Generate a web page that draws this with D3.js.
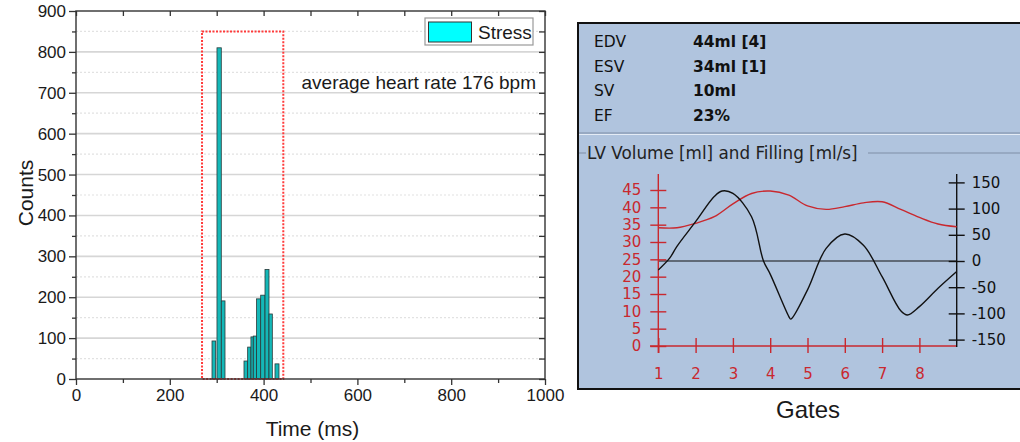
<!DOCTYPE html>
<html>
<head>
<meta charset="utf-8">
<script src="https://cdn.jsdelivr.net/npm/d3@7"></script>
<style>
body { margin: 0; background: #fff; }
svg { display: block; }
</style>
</head>
<body>
<svg width="1020" height="442"></svg>
<script>
// left: histogram of RR intervals
var binStart = [290, 300.6, 309.8, 358.2, 366, 373, 378, 385, 393.8, 403, 411.5, 424.3];
var binEnd   = [297.8, 309.8, 317.7, 366, 373, 378, 385, 393.8, 403, 411.5, 418.6, 432.8];
var counts   = [93, 810, 191, 44, 78, 103, 105, 196, 205, 268, 159, 37];
var xTicks = [0, 200, 400, 600, 800, 1000];
var xMinor = [100, 300, 500, 700, 900];
var yTicks = [0, 100, 200, 300, 400, 500, 600, 700, 800, 900];
var yMinor = [50, 150, 250, 350, 450, 550, 650, 750, 850];
var acceptWindow = [268.7, 442, 850]; // from, to, height
var seriesName = "Stress";
var note = "average heart rate 176 bpm";

// right: gated LV volume / filling
var statLabels = ["EDV", "ESV", "SV", "EF"];
var statValues = ["44ml [4]", "34ml [1]", "10ml", "23%"];
var volGate = [1, 1.5, 2, 2.5, 3, 3.5, 4, 4.5, 5, 5.5, 6, 6.5, 7, 7.5, 8, 8.5, 9];
var volume  = [34.1, 34.1, 35.4, 37.3, 41.0, 44.0, 44.7, 43.5, 40.4, 39.4, 40.2, 41.3, 41.6, 39.4, 37.1, 35.2, 34.4];
var fillGate = [1, 1.31, 1.5, 2, 2.5, 2.71, 3, 3.5, 3.82, 4, 4.5, 4.55, 5, 5.5, 6, 6.5, 7, 7.5, 7.68, 8, 8.5, 9];
var filling  = [-17, 6, 28, 75, 123, 133.6, 129, 84.5, 0, -25, -106, -111, -55, 24, 51.5, 30, -30, -95, -103, -87, -52, -20];
var volTicks = [0, 5, 10, 15, 20, 25, 30, 35, 40, 45];
var fillTicks = [150, 100, 50, 0, -50, -100, -150];
var gateTicks = [1, 2, 3, 4, 5, 6, 7, 8];

var svg = d3.select("svg");
var sans = "'Liberation Sans', Arial, sans-serif";
var tahoma = "'DejaVu Sans', Verdana, sans-serif";

// ---------- histogram ----------
var x = d3.scaleLinear().domain([0, 1000]).range([76, 545]);
var y = d3.scaleLinear().domain([0, 900]).range([379, 11]);

var left = svg.append("g");

left.selectAll(".minor-grid")
  .data(yMinor)
  .join("line")
  .attr("x1", x(0)).attr("x2", x(1000))
  .attr("y1", d => y(d)).attr("y2", d => y(d))
  .attr("stroke", "#e2e2e2").attr("stroke-width", 1.2)
  .attr("stroke-dasharray", "2,2");

left.selectAll(".major-grid")
  .data(yTicks.slice(1, -1))
  .join("line")
  .attr("x1", x(0)).attr("x2", x(1000))
  .attr("y1", d => y(d)).attr("y2", d => y(d))
  .attr("stroke", "#d6d6d6").attr("stroke-width", 1.6);

left.selectAll(".bar")
  .data(counts)
  .join("rect")
  .attr("x", (d, i) => x(binStart[i]))
  .attr("width", (d, i) => x(binEnd[i]) - x(binStart[i]))
  .attr("y", d => y(d))
  .attr("height", d => y(0) - y(d))
  .attr("fill", "#14b8b8")
  .attr("stroke", "#2a3a3a").attr("stroke-width", 0.8);

left.append("rect")
  .attr("x", x(acceptWindow[0]))
  .attr("y", y(acceptWindow[2]))
  .attr("width", x(acceptWindow[1]) - x(acceptWindow[0]))
  .attr("height", y(0) - y(acceptWindow[2]))
  .attr("fill", "none")
  .attr("stroke", "#ff3b3b").attr("stroke-width", 2)
  .attr("stroke-dasharray", "2,1.5");

// axes
function styleAxis(g) {
  g.select(".domain").remove();
  g.selectAll("line").attr("stroke", "#333").attr("stroke-width", 1.3);
  g.selectAll("text").attr("fill", "#1a1a1a").style("font-family", sans).style("font-size", "17px");
}

left.append("g")
  .attr("transform", "translate(0," + y(0) + ")")
  .call(d3.axisBottom(x).tickValues(xTicks).tickSize(6).tickPadding(4).tickFormat(d3.format("d")))
  .call(styleAxis);
left.append("g")
  .attr("transform", "translate(0," + y(0) + ")")
  .call(d3.axisBottom(x).tickValues(xMinor).tickSize(4).tickFormat(""))
  .call(styleAxis);
left.append("g")
  .attr("transform", "translate(0," + y(900) + ")")
  .call(d3.axisBottom(x).tickValues(xTicks.concat(xMinor)).tickSize(5).tickFormat(""))
  .call(styleAxis);

left.append("g")
  .attr("transform", "translate(" + x(0) + ",0)")
  .call(d3.axisLeft(y).tickValues(yTicks).tickSize(7).tickPadding(3))
  .call(styleAxis);
left.append("g")
  .attr("transform", "translate(" + x(0) + ",0)")
  .call(d3.axisLeft(y).tickValues(yMinor).tickSize(4).tickFormat(""))
  .call(styleAxis);
left.append("g")
  .attr("transform", "translate(" + x(1000) + ",0)")
  .call(d3.axisLeft(y).tickValues(yTicks.concat(yMinor)).tickSize(6).tickFormat(""))
  .call(styleAxis);

left.append("rect")
  .attr("x", x(0)).attr("y", y(900))
  .attr("width", x(1000) - x(0)).attr("height", y(0) - y(900))
  .attr("fill", "none").attr("stroke", "#333").attr("stroke-width", 1.4);

// legend
var leg = left.append("g");
leg.append("rect")
  .attr("x", 425).attr("y", 18).attr("width", 108).attr("height", 27)
  .attr("fill", "#fff").attr("stroke", "#999").attr("stroke-width", 1.2);
leg.append("rect")
  .attr("x", 428.5).attr("y", 22).attr("width", 43).attr("height", 20)
  .attr("fill", "#00ffff").attr("stroke", "#333").attr("stroke-width", 1);
leg.append("text")
  .attr("x", 478).attr("y", 38.5)
  .style("font-family", sans).style("font-size", "19px").attr("fill", "#1a1a1a")
  .text(seriesName);

left.append("text")
  .attr("x", 536).attr("y", 89)
  .attr("text-anchor", "end")
  .style("font-family", sans).style("font-size", "19px").attr("fill", "#1a1a1a")
  .text(note);

left.append("text")
  .attr("x", (x(0) + x(1000)) / 2 + 2).attr("y", 436)
  .attr("text-anchor", "middle")
  .style("font-family", sans).style("font-size", "21px").attr("fill", "#1a1a1a")
  .text("Time (ms)");

left.append("text")
  .attr("transform", "translate(33," + (y(450) - 2) + ") rotate(-90)")
  .attr("text-anchor", "middle")
  .style("font-family", sans).style("font-size", "21px").attr("fill", "#1a1a1a")
  .text("Counts");

// ---------- gated panel ----------
var panel = svg.append("g");
panel.append("rect")
  .attr("x", 578).attr("y", 23).attr("width", 460).attr("height", 366)
  .attr("fill", "#b0c4de").attr("stroke", "#111").attr("stroke-width", 2);

panel.selectAll(".stat-label")
  .data(statLabels)
  .join("text")
  .attr("x", 594).attr("y", (d, i) => 47 + i * 24.6)
  .style("font-family", tahoma).style("font-size", "15.5px").attr("fill", "#111")
  .text(d => d);
panel.selectAll(".stat-value")
  .data(statValues)
  .join("text")
  .attr("x", 693).attr("y", (d, i) => 47 + i * 24.6)
  .style("font-family", tahoma).style("font-size", "15.5px").style("font-weight", "bold").attr("fill", "#111")
  .text(d => d);

// separator groove and group box line
panel.append("line").attr("x1", 579).attr("x2", 1020).attr("y1", 133).attr("y2", 133)
  .attr("stroke", "#7f8ea6").attr("stroke-width", 1.2);
panel.append("line").attr("x1", 579).attr("x2", 1020).attr("y1", 134.5).attr("y2", 134.5)
  .attr("stroke", "#e4ecf6").attr("stroke-width", 1);
panel.append("line").attr("x1", 579).attr("x2", 586).attr("y1", 153).attr("y2", 153)
  .attr("stroke", "#7f8ea6").attr("stroke-width", 1);
panel.append("line").attr("x1", 868).attr("x2", 1020).attr("y1", 153).attr("y2", 153)
  .attr("stroke", "#7f8ea6").attr("stroke-width", 1);
panel.append("text")
  .attr("x", 587).attr("y", 158.5)
  .style("font-family", tahoma).style("font-size", "16.8px").attr("fill", "#222")
  .text("LV Volume [ml] and Filling [ml/s]");

var gx = d3.scaleLinear().domain([1, 9]).range([658.3, 956.7]);
var vy = d3.scaleLinear().domain([0, 45]).range([346, 190]);
var fy = d3.scaleLinear().domain([-150, 150]).range([339.6, 182.4]);
var red = "#c9282e";

// zero line of filling
panel.append("line")
  .attr("x1", gx(1)).attr("x2", gx(9))
  .attr("y1", fy(0)).attr("y2", fy(0))
  .attr("stroke", "#111").attr("stroke-width", 1.2);

// volume axis (left, red)
var va = panel.append("g").attr("transform", "translate(" + gx(1) + ",0)")
  .call(d3.axisLeft(vy).tickValues(volTicks).tickSize(8).tickPadding(9));
va.select(".domain").remove();
va.selectAll("line").attr("x2", -8).attr("x1", 8).attr("stroke", red).attr("stroke-width", 1.4);
va.selectAll("text").attr("fill", red).style("font-family", tahoma).style("font-size", "15px");
panel.append("line").attr("x1", gx(1)).attr("x2", gx(1)).attr("y1", 174).attr("y2", 353)
  .attr("stroke", red).attr("stroke-width", 1.4);

// gate axis (bottom, red)
var ga = panel.append("g").attr("transform", "translate(0," + vy(0) + ")")
  .call(d3.axisBottom(gx).tickValues(gateTicks).tickSize(7).tickPadding(15));
ga.select(".domain").remove();
ga.selectAll("line").attr("y1", -8).attr("y2", 7).attr("stroke", red).attr("stroke-width", 1.4);
ga.selectAll("text").attr("fill", red).style("font-family", tahoma).style("font-size", "15px");
panel.append("line").attr("x1", 650).attr("x2", gx(9)).attr("y1", vy(0)).attr("y2", vy(0))
  .attr("stroke", red).attr("stroke-width", 1.4);

// filling axis (right, black), plain hyphen for negatives
var fa = panel.append("g").attr("transform", "translate(" + gx(9) + ",0)")
  .call(d3.axisRight(fy).tickValues(fillTicks).tickSize(8).tickPadding(7).tickFormat(d => String(d)));
fa.select(".domain").remove();
fa.selectAll("line").attr("x1", -8).attr("x2", 8).attr("stroke", "#111").attr("stroke-width", 1.4);
fa.selectAll("text").attr("fill", "#111").style("font-family", tahoma).style("font-size", "15px");
panel.append("line").attr("x1", gx(9)).attr("x2", gx(9)).attr("y1", 174).attr("y2", 347)
  .attr("stroke", "#111").attr("stroke-width", 1.4);

// curves
var volLine = d3.line()
  .x((d, i) => gx(volGate[i]))
  .y(d => vy(d))
  .curve(d3.curveCatmullRom);
panel.append("path")
  .attr("d", volLine(volume))
  .attr("fill", "none").attr("stroke", red).attr("stroke-width", 1.4);

var fillLine = d3.line()
  .x((d, i) => gx(fillGate[i]))
  .y(d => fy(d))
  .curve(d3.curveCatmullRom);
panel.append("path")
  .attr("d", fillLine(filling))
  .attr("fill", "none").attr("stroke", "#111").attr("stroke-width", 1.4);

// outer label under panel
svg.append("text")
  .attr("x", 808).attr("y", 418)
  .attr("text-anchor", "middle")
  .style("font-family", sans).style("font-size", "24px").attr("fill", "#1a1a1a")
  .text("Gates");
</script>
</body>
</html>
